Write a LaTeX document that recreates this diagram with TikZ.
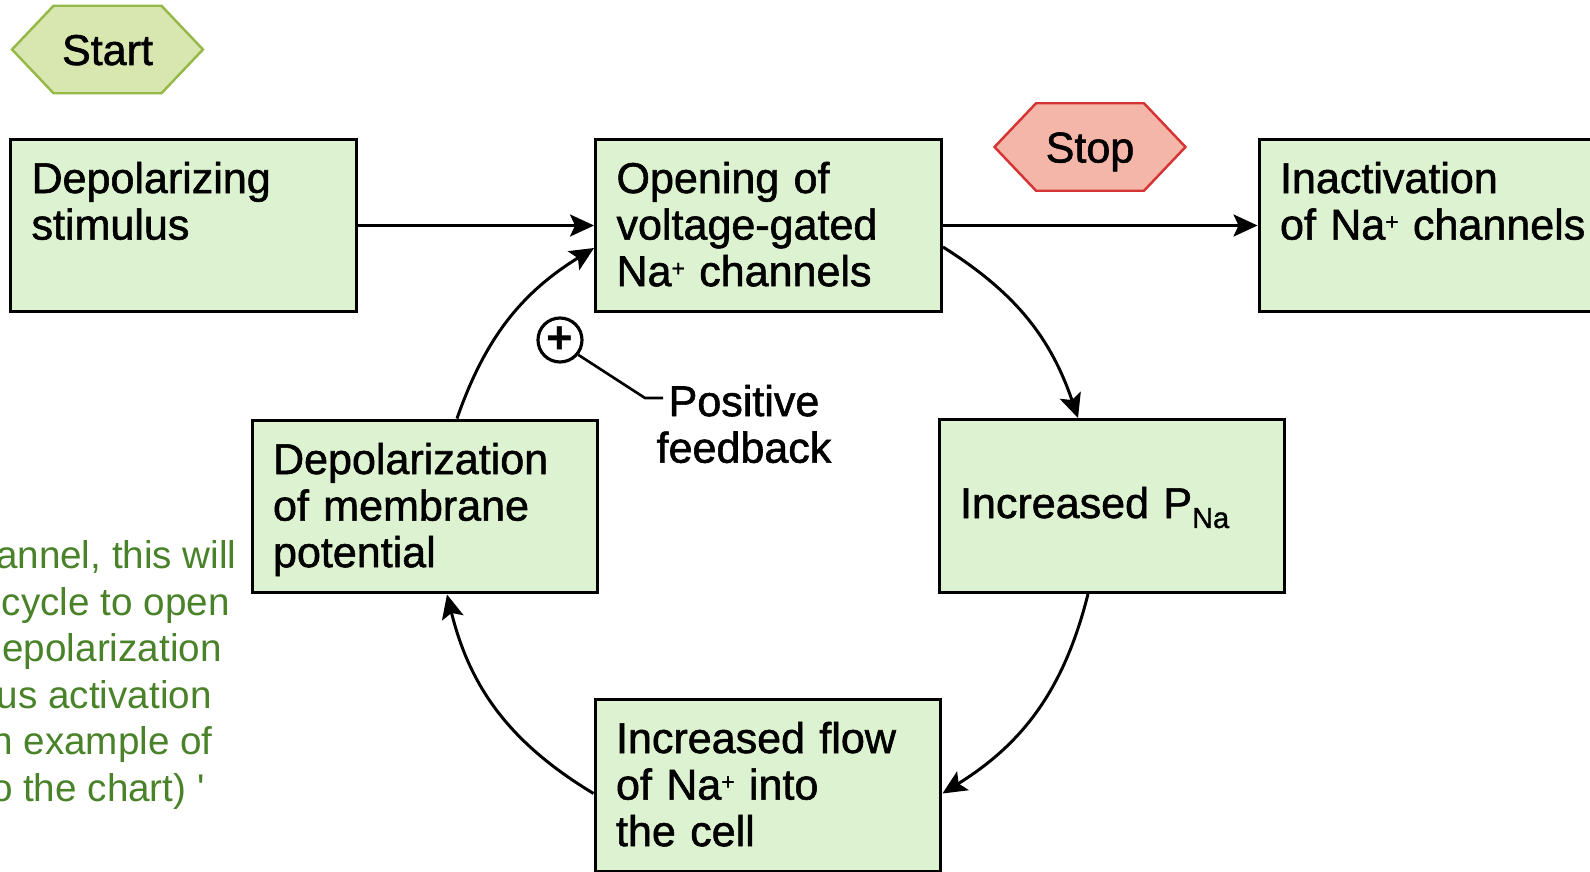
\documentclass[tikz,border=0pt]{standalone}
\usepackage{fontspec}
\setmainfont{Liberation Sans}
\newfontfamily\heavyfont{Liberation Sans}[FakeBold=1.3]
\usetikzlibrary{arrows.meta,shapes.symbols}
\definecolor{boxgreen}{RGB}{221,242,208}
\definecolor{startfill}{RGB}{216,230,176}
\definecolor{startline}{RGB}{150,184,72}
\definecolor{stopfill}{RGB}{243,182,168}
\definecolor{stopline}{RGB}{214,52,52}
\definecolor{notegreen}{RGB}{74,130,42}
% small raised plus of Na+
\newcommand{\ionplus}{\raisebox{0.2cm}{\fontsize{13}{13}\selectfont+}}

\begin{document}
\begin{tikzpicture}[x=0.02cm,y=0.02cm,
  font=\heavyfont\fontsize{24.5}{26.5}\selectfont,
  box/.style={rectangle,draw,line width=1.7pt,fill=boxgreen,minimum width=6.92cm,minimum height=3.46cm,
    text width=6.08cm,inner xsep=0.42cm,align=left,text height=0.6cm,text depth=1.9cm},
  hexa/.style={signal,signal to=west and east,signal pointer angle=93,line width=1.4pt,
    minimum width=3.82cm,minimum height=1.75cm,inner sep=0pt,text height=0.62cm,text depth=0cm},
  arr/.style={-{Stealth[length=0.48cm,width=0.44cm,inset=0.1cm]},line width=1.7pt},
  note/.style={anchor=base east,inner sep=0pt,text=notegreen,font=\fontsize{22}{26.5}\selectfont}]
\useasboundingbox (0,0) rectangle (1590,-872);
\clip (0,0) rectangle (1590,-872);

% start / stop
\node[hexa,fill=startfill,draw=startline] (start) at (107.5,-49.5) {Start};
\node[hexa,fill=stopfill,draw=stopline] (stop) at (1090,-147) {Stop};

% boxes
\node[box] (stim) at (183.5,-225.5) {Depolarizing\\stimulus};
\node[box] (open) at (768.5,-225.5) {Opening of\\voltage-gated\\Na\ionplus\ channels};
\node[box,text width=6.6cm] (inact) at (1445,-225.5) {Inactivation\\of Na\ionplus\ channels};
\node[box] (depol) at (425,-506.5) {Depolarization\\of membrane\\potential};
\node[box,text depth=0.12cm] (pna) at (1112,-506) {Increased P\raisebox{-0.2cm}{\fontsize{16.5}{17}\selectfont Na}};
\node[box] (flow) at (768,-785.5) {Increased flow\\of Na\ionplus\ into\\the cell};

% feedback label
\node[circle,draw,line width=1.8pt,minimum size=0.88cm,inner sep=0pt,
  font=\fontsize{26}{26}\selectfont\bfseries] (plus) at (560,-340) {+};
\node[align=center] (fb) at (744,-424) {Positive\\feedback};
\coordinate (fbend) at (645,-398);
\coordinate (fbtip) at (663,-398);
\draw[line width=1.5pt] (plus.-39) -- (fbend) -- (fbtip);

% arrows
\draw[arr] (stim) -- (open);
\draw[arr] (open) -- (inact);
\draw[arr] ([yshift=-0.43cm]open.east) to[bend left=19.5] ([xshift=-0.68cm]pna.north);
\draw[arr] ([xshift=-0.48cm]pna.south) to[bend left=22] ([yshift=-0.16cm]flow.east);
\draw[arr] ([yshift=-0.16cm]flow.west) to[bend left=22.5] ([xshift=0.44cm]depol.south);
\draw[arr] ([xshift=0.64cm]depol.north) to[bend left=19.5] ([yshift=-0.45cm]open.west);

% cut-off note on the left
\foreach \i/\t/\xr/\yb in {1/{annel, this will}/237/568, 2/{cycle to open}/230/615,
  3/{epolarization}/222/661, 4/{us activation}/212/708, 5/{n example of}/213/754,
  6/{o the chart) \textquotesingle}/205/801}
  \node[note] (note\i) at (\xr,-\yb) {\t};
\end{tikzpicture}
\end{document}
